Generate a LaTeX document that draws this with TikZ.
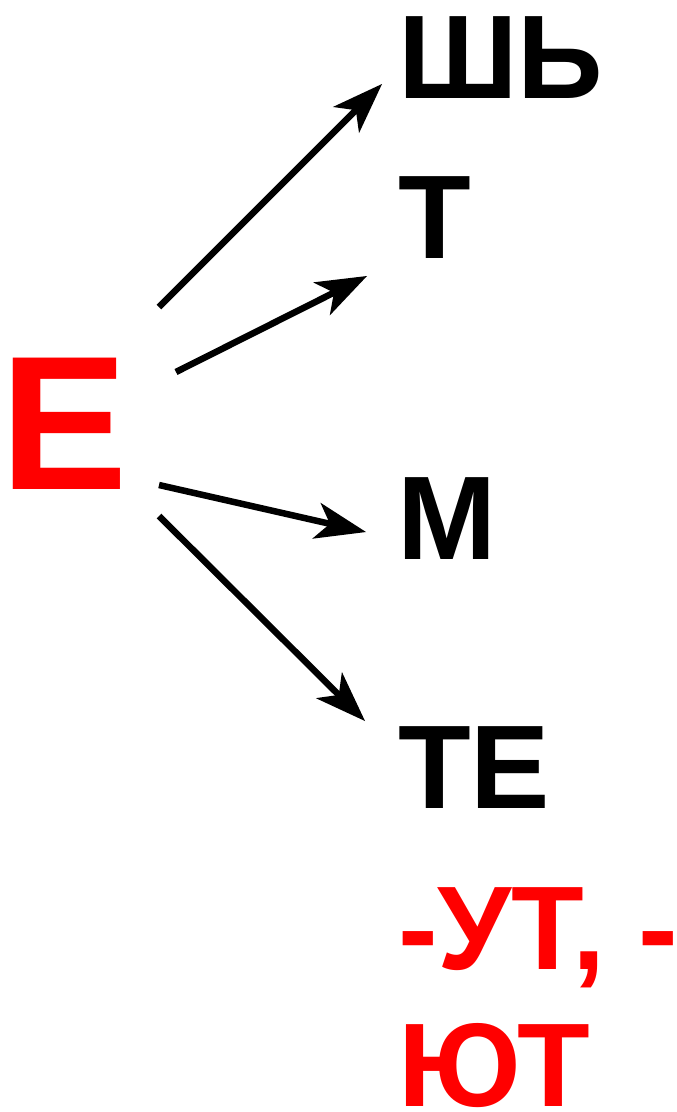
\documentclass[tikz,border=0pt]{standalone}
\usepackage{fontspec}
\setmainfont{Liberation Sans}
\usetikzlibrary{arrows.meta}
\definecolor{accentred}{RGB}{255,0,0}
\begin{document}
\begin{tikzpicture}[x=1pt,y=-1pt,
  lbl/.style={anchor=base west,inner sep=0pt,outer sep=0pt,font=\fontsize{119}{119}\selectfont\bfseries},
  big/.style={anchor=base west,inner sep=0pt,outer sep=0pt,font=\fontsize{191}{191}\selectfont\bfseries,text=accentred},
  conn/.style={line width=6.5pt,-{Stealth[length=51pt,width=37pt,inset=14pt,line width=0pt]}}]
\useasboundingbox (0,0) rectangle (677,1112);
\node[big] (E) at (1,489) {Е};
\node[lbl] (sh) at (398,98) {ШЬ};
\node[lbl] (t) at (398,258) {Т};
\node[lbl] (m) at (397,559) {М};
\node[lbl] (te) at (398,808) {ТЕ};
\node[lbl,text=accentred] (ut) at (398,969) {-УТ, -};
\node[lbl,text=accentred,text depth=0pt] (yut) at (398,1106) {ЮТ};
\coordinate (s1) at (159,307);
\coordinate (e1) at (382,84);
\coordinate (s2) at (176,372);
\coordinate (e2) at (367,276);
\coordinate (s3) at (159,485);
\coordinate (e3) at (366,532);
\coordinate (s4) at (159,516);
\coordinate (e4) at (365,721);
\draw[conn] (s1) -- (e1);
\draw[conn] (s2) -- (e2);
\draw[conn] (s3) -- (e3);
\draw[conn] (s4) -- (e4);
\end{tikzpicture}
\end{document}
